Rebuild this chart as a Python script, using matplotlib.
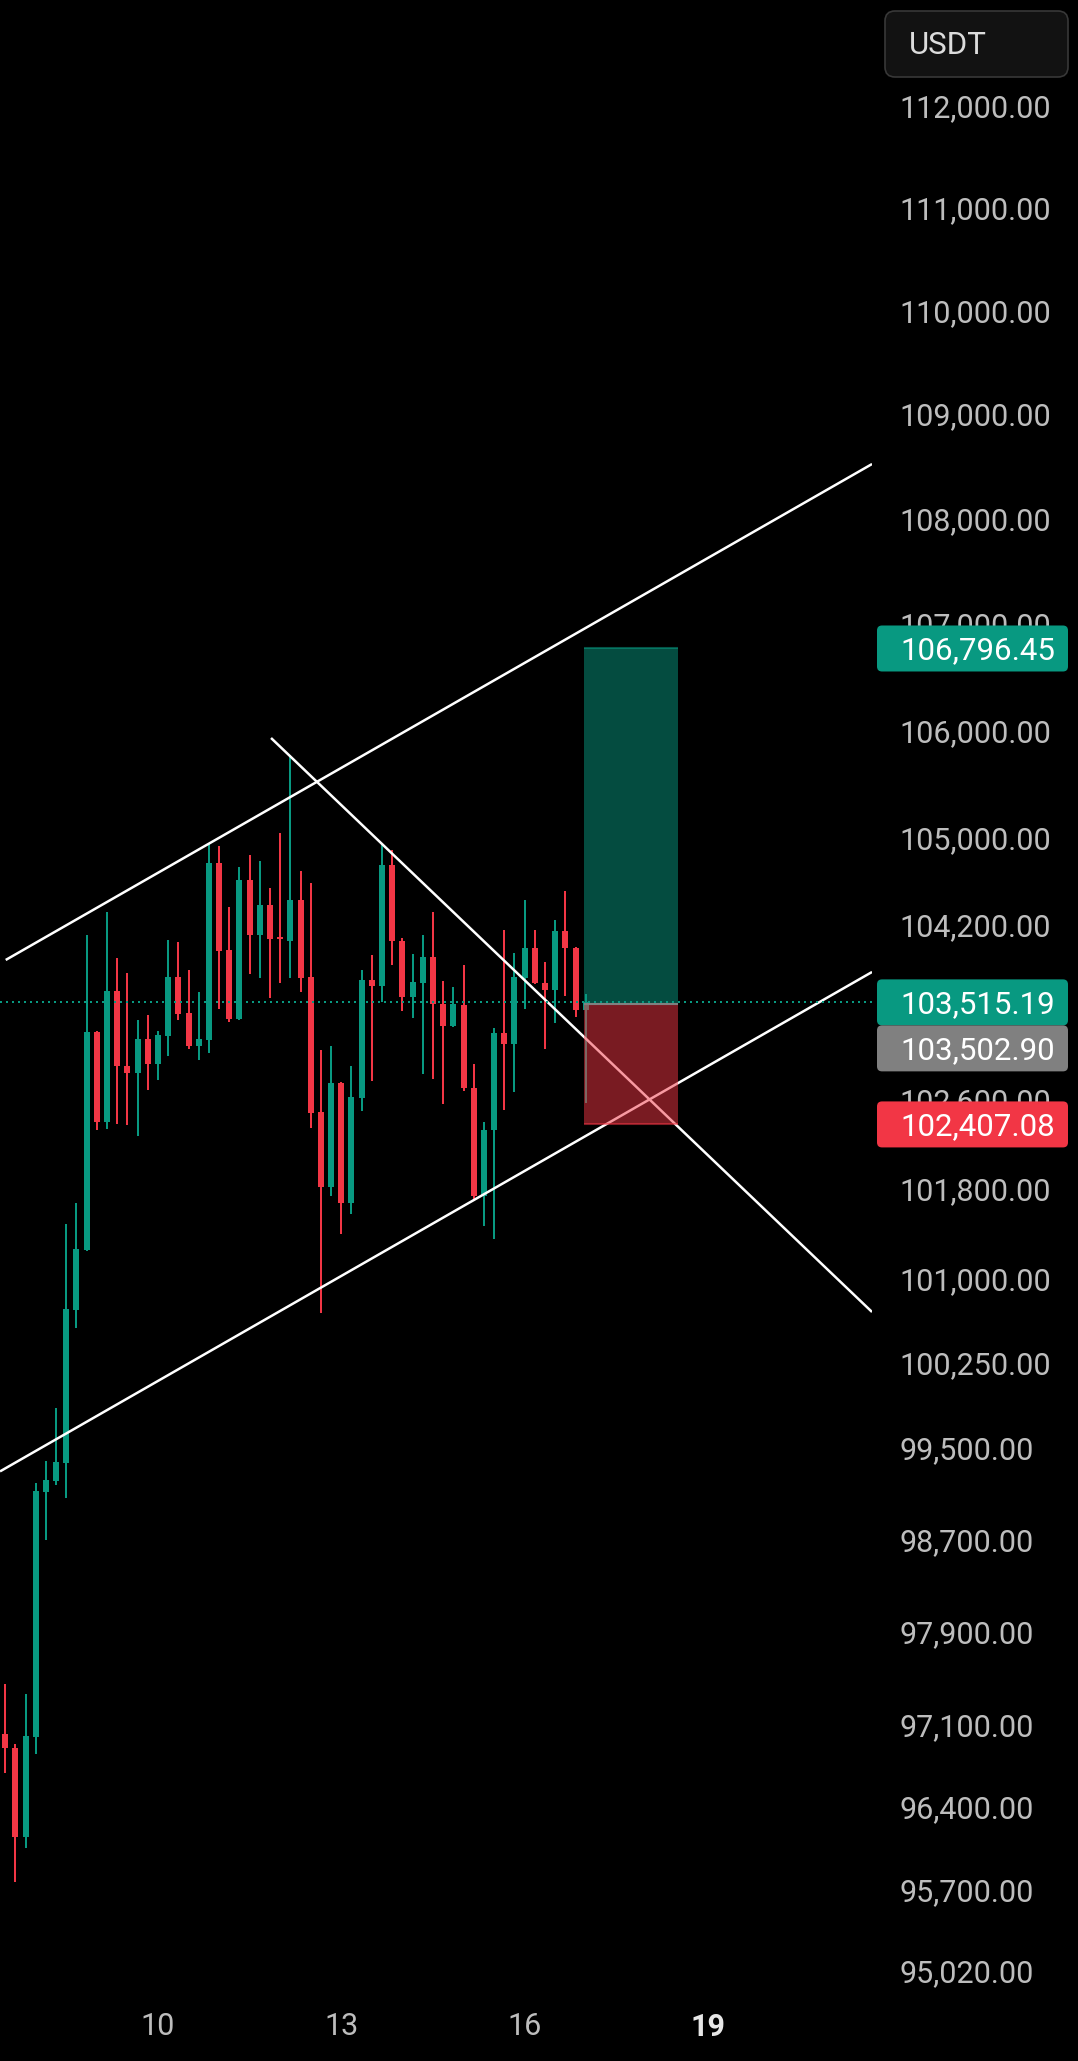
import numpy as np
import pandas as pd
import matplotlib
matplotlib.use("Agg")
import matplotlib.pyplot as plt
from matplotlib.patches import Rectangle, FancyBboxPatch
from matplotlib.transforms import Affine2D, ScaledTranslation
from matplotlib.ticker import FixedLocator, NullLocator, FuncFormatter

plt.rcParams['font.family'] = ['Roboto', 'DejaVu Sans']

# ---------------- data (BTC/USDT, 4h candles) ----------------
dates = pd.date_range("2025-05-07 12:00", periods=58, freq="4h")

opens = [97048, 96924, 96174, 97025, 99143, 99237, 99398, 100745, 101279, 103245,
         102432, 103619, 102939, 102875, 103182, 102957, 103212, 103747, 103418, 103118,
         103172, 104796, 103994, 103364, 104639, 104128, 104408, 104114, 104077, 104454,
         103747, 102515, 101846, 102782, 101704, 102649, 103720, 103668, 104777, 104080,
         103567, 103695, 103930, 103498, 103303, 103491, 102739, 101763, 102357, 103236,
         103139, 103741, 104013, 103693, 103631, 104169, 104016, 103448]
highs = [97475, 96963, 97390, 99220, 99411, 99879, 101512, 101700, 104132, 103254,
         104344, 103921, 103784, 103355, 103400, 103254, 104086, 104068, 103811, 103610,
         104974, 104953, 104390, 104759, 104869, 104814, 104565, 105073, 105802, 104722,
         104611, 103081, 103118, 102790, 102936, 103811, 103949, 104968, 104916, 104105,
         103958, 104132, 104344, 103711, 103656, 103857, 102954, 102429, 103282, 104178,
         103967, 104454, 104178, 103885, 104270, 104537, 104025, 103592]
lows = [96718, 95793, 96077, 96878, 98723, 99204, 99090, 100585, 101270, 102357,
        102366, 102411, 102402, 102303, 102719, 102809, 103027, 103355, 103090, 102991,
        103057, 103459, 103336, 103355, 103770, 103738, 103555, 103696, 103738, 103610,
        102375, 100718, 101763, 101422, 101604, 102531, 102803, 103521, 103860, 103439,
        103376, 102866, 102821, 102594, 103294, 102712, 101720, 101497, 101380, 102540,
        102703, 103458, 103686, 103093, 103330, 103576, 103385, 102603]
closes = [96924, 96174, 97032, 99150, 99248, 99404, 100752, 101288, 103245, 102432,
          103619, 102939, 102875, 103182, 102957, 103218, 103747, 103409, 103118, 103182,
          104796, 103989, 103364, 104639, 104128, 104408, 104098, 104098, 104454, 103738,
          102510, 101846, 102782, 101704, 102655, 103720, 103668, 104777, 104080, 103567,
          103702, 103930, 103498, 103303, 103503, 102739, 101763, 102357, 103236, 103139,
          103747, 104013, 103693, 103631, 104169, 104016, 103448, 103515.19]

price_ticks = [112000, 111000, 110000, 109000, 108000, 107000, 106000, 105000, 104200,
               102600, 101800, 101000, 100250, 99500, 98700, 97900, 97100, 96400, 95700, 95020]
date_tick_days = ["2025-05-10", "2025-05-13", "2025-05-16", "2025-05-19"]
date_tick_labels = ["10", "13", "16", "19"]

current_price = 103515.19
entry_price = 103502.90
target_price = 106796.45
stop_price = 102407.08

# drawn trend lines: (bar index, price) anchors
upper_line_x, upper_line_p = [0.05, 85.11], [103903, 108548]
lower_line_x, lower_line_p = [-0.51, 85.11], [99321, 103793]
desc_line_x, desc_line_p = [26.10, 85.11], [105957, 100727]
position_x = [56.85, 66.03]

# ---------------- layout ----------------
W, H = 1078, 2061
PLOT_RIGHT, PLOT_BOTTOM = 872, 2000
Y_REF_PX, Y_REF_PRICE, PX_PER_LN = 109, 112000, 11340
X0_PX, PX_PER_BAR = 5.2, 10.185

UP, DOWN = '#089981', '#F23645'
BG = '#000000'
LABEL = '#bdbdbd'

fig = plt.figure(figsize=(W / 100, H / 100), dpi=100, facecolor=BG)
ax = fig.add_axes([0, (H - PLOT_BOTTOM) / H, PLOT_RIGHT / W, PLOT_BOTTOM / H])
ax.set_facecolor(BG)
ax.set_yscale('log')
p_top = Y_REF_PRICE * np.exp(Y_REF_PX / PX_PER_LN)
p_bot = Y_REF_PRICE * np.exp(-(PLOT_BOTTOM - Y_REF_PX) / PX_PER_LN)
ax.set_ylim(p_bot, p_top)
ax.set_xlim(-X0_PX / PX_PER_BAR, (PLOT_RIGHT - X0_PX) / PX_PER_BAR)
for s in ax.spines.values():
    s.set_visible(False)

o = np.array(opens, float)
h = np.array(highs, float)
l = np.array(lows, float)
c = np.array(closes, float)
idx = np.arange(len(o))
cols = [UP if cc >= oo else DOWN for oo, cc in zip(o, c)]

ax.vlines(idx, l, h, colors=cols, lw=1.44, zorder=2)
ax.bar(idx, np.abs(c - o), bottom=np.minimum(o, c), width=0.59, color=cols,
       linewidth=0, zorder=2.5)

# trend lines
for xs, ps in [(upper_line_x, upper_line_p), (lower_line_x, lower_line_p),
               (desc_line_x, desc_line_p)]:
    ax.plot(xs, ps, color='white', lw=1.8, solid_capstyle='butt', zorder=3)

# long position tool
px0, px1 = position_x
ax.add_patch(Rectangle((px0, entry_price), px1 - px0, target_price - entry_price,
                       facecolor=UP, alpha=0.5, edgecolor='none', zorder=4))
ax.add_patch(Rectangle((px0, stop_price), px1 - px0, entry_price - stop_price,
                       facecolor=DOWN, alpha=0.5, edgecolor='none', zorder=4))
ax.hlines(target_price, px0, px1, color=UP, alpha=0.55, lw=1.5, zorder=4.5)
ax.hlines(stop_price, px0, px1, color=DOWN, alpha=0.55, lw=1.5, zorder=4.5)
ax.hlines(entry_price, px0, px1, color='#808080', lw=1.5, zorder=4.6)

# current price dotted line
ax.axhline(current_price, color=UP, lw=1.44, ls=(0, (1, 2)), zorder=6)

# axes ticks
ax.yaxis.tick_right()
ax.yaxis.set_major_locator(FixedLocator(price_ticks))
ax.yaxis.set_minor_locator(NullLocator())
ax.yaxis.set_major_formatter(FuncFormatter(lambda v, _: f"{v:,.2f}"))
ax.tick_params(axis='y', length=0, pad=19.5, labelsize=22, labelcolor=LABEL)
shift_up = ScaledTranslation(0, 3 / 100, fig.dpi_scale_trans)
for lab in ax.get_yticklabels():
    lab.set_transform(lab.get_transform() + shift_up)

xt = [(pd.Timestamp(d) - dates[0]) / pd.Timedelta("4h") for d in date_tick_days]
ax.set_xticks(xt, date_tick_labels)
ax.xaxis.set_minor_locator(NullLocator())
ax.tick_params(axis='x', length=0, pad=8.5, labelsize=22, labelcolor=LABEL)
last = ax.get_xticklabels()[-1]
last.set_fontweight('bold')
last.set_color('#e6e6e6')

# ---------------- price badges (pixel layout) ----------------
px_trans = Affine2D().scale(1 / 100) + fig.dpi_scale_trans


def price_to_top_px(p):
    return H - ax.transData.transform((0, p))[1] * 100 / fig.dpi


BADGE_X0, BADGE_X1, BADGE_H = 877, 1068, 46


def badge(center_top, text, color):
    y0 = H - center_top - BADGE_H / 2
    fig.add_artist(FancyBboxPatch((BADGE_X0, y0), BADGE_X1 - BADGE_X0, BADGE_H,
                                  boxstyle="round,pad=0,rounding_size=5",
                                  facecolor=color, edgecolor='none',
                                  transform=px_trans, zorder=10))
    fig.text(900, H - center_top + 1, text, transform=px_trans, color='white',
             fontsize=22.5, va='center_baseline', ha='left', zorder=11)


cy_target = price_to_top_px(target_price)
cy_cur = price_to_top_px(current_price)
cy_entry = max(price_to_top_px(entry_price), cy_cur + BADGE_H)
cy_stop = price_to_top_px(stop_price)

badge(cy_target, f"{target_price:,.2f}", UP)
badge(cy_cur, f"{current_price:,.2f}", UP)
badge(cy_entry, f"{entry_price:,.2f}", '#808080')
badge(cy_stop, f"{stop_price:,.2f}", DOWN)

# currency button
fig.add_artist(FancyBboxPatch((885, H - 77), 183, 66,
                              boxstyle="round,pad=0,rounding_size=10",
                              facecolor='#121212', edgecolor='#383838', lw=1.2,
                              transform=px_trans, zorder=10))
fig.text(909, H - 43, "USDT", transform=px_trans, color='#dcdcdc', fontsize=22.5,
         va='center_baseline', ha='left', zorder=11)

fig.savefig("out.png", dpi=100, facecolor=BG)
